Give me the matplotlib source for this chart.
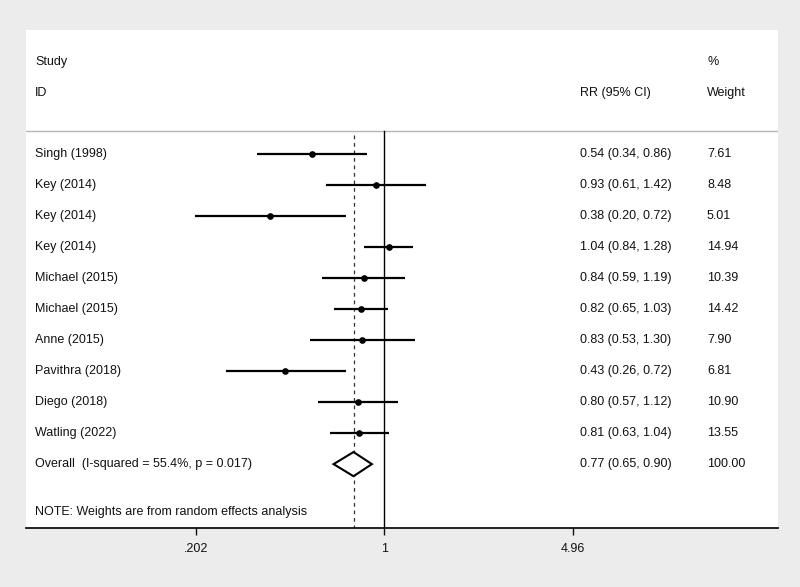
import numpy as np
import matplotlib
matplotlib.use('Agg')
import matplotlib.pyplot as plt

plt.rcParams['font.family'] = ['Liberation Sans', 'DejaVu Sans']

# study data
studies = ["Singh (1998)", "Key (2014)", "Key (2014)", "Key (2014)",
           "Michael (2015)", "Michael (2015)", "Anne (2015)",
           "Pavithra (2018)", "Diego (2018)", "Watling (2022)"]
rr = [0.54, 0.93, 0.38, 1.04, 0.84, 0.82, 0.83, 0.43, 0.80, 0.81]
ci_lo = [0.34, 0.61, 0.20, 0.84, 0.59, 0.65, 0.53, 0.26, 0.57, 0.63]
ci_hi = [0.86, 1.42, 0.72, 1.28, 1.19, 1.03, 1.30, 0.72, 1.12, 1.04]
weights = ["7.61", "8.48", "5.01", "14.94", "10.39", "14.42",
           "7.90", "6.81", "10.90", "13.55"]

overall_label = "Overall  (I-squared = 55.4%, p = 0.017)"
overall_rr, overall_lo, overall_hi = 0.77, 0.65, 0.90
overall_weight = "100.00"
note = "NOTE: Weights are from random effects analysis"

tick_vals = [0.202, 1, 4.96]
tick_labels = [".202", "1", "4.96"]

fig = plt.figure(figsize=(8, 5.87), dpi=100, facecolor='#ececec')
ax = fig.add_axes([26 / 800, 59 / 587, 752 / 800, 498 / 587])
ax.set_facecolor('white')
ax.set_xscale('log')
ax.set_xlim(0.0476, 28.4)
ax.set_ylim(12.06, -4.0)

for s in ['top', 'left', 'right']:
    ax.spines[s].set_visible(False)
ax.spines['bottom'].set_linewidth(1.3)
ax.spines['bottom'].set_color('#111111')
ax.set_yticks([])
ax.minorticks_off()
ax.set_xticks(tick_vals)
ax.set_xticklabels(tick_labels)
ax.tick_params(axis='x', length=5, width=1, direction='out', pad=6,
               labelsize=9, colors='#111111')

txt = dict(fontsize=9, color='#111111', va='center')
tr = ax.get_yaxis_transform()
x_id, x_rr, x_w = 0.012, 0.7367, 0.9056

# header
ax.text(x_id, -2.97, "Study", transform=tr, **txt)
ax.text(x_id, -1.97, "ID", transform=tr, **txt)
ax.text(x_rr, -1.97, "RR (95% CI)", transform=tr, **txt)
ax.text(x_w, -2.97, "%", transform=tr, **txt)
ax.text(x_w, -1.97, "Weight", transform=tr, **txt)
ax.axhline(-0.74, color='#b5b5b5', lw=1)

# reference lines
ax.plot([1, 1], [-0.74, 12.06], color='black', lw=1)
ax.plot([overall_rr, overall_rr], [-0.6, 12.06], color='#333333', lw=0.9,
        dashes=(3, 3))

rows = np.arange(len(studies))
for i in rows:
    ax.plot([ci_lo[i], ci_hi[i]], [i, i], color='black', lw=1.6,
            solid_capstyle='butt')
    ax.plot(rr[i], i, 'o', color='black', ms=3.8)
    ax.text(x_id, i, studies[i], transform=tr, **txt)
    ax.text(x_rr, i, "%.2f (%.2f, %.2f)" % (rr[i], ci_lo[i], ci_hi[i]),
            transform=tr, **txt)
    ax.text(x_w, i, weights[i], transform=tr, **txt)

# overall diamond
yo = len(studies)
h = 0.39
ax.fill([overall_lo, overall_rr, overall_hi, overall_rr],
        [yo, yo - h, yo, yo + h], facecolor='white', edgecolor='black',
        lw=1.5, zorder=3)
ax.text(x_id, yo, overall_label, transform=tr, **txt)
ax.text(x_rr, yo, "%.2f (%.2f, %.2f)" % (overall_rr, overall_lo, overall_hi),
        transform=tr, **txt)
ax.text(x_w, yo, overall_weight, transform=tr, **txt)

ax.text(x_id, 11.55, note, transform=tr, **txt)

fig.savefig("out.png", dpi=100, facecolor=fig.get_facecolor())
